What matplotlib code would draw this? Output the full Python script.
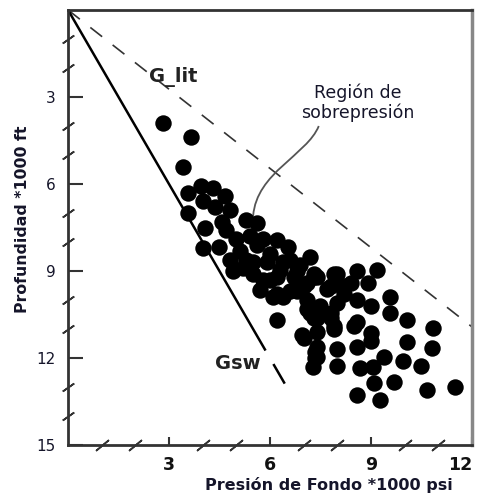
import numpy as np
import matplotlib
matplotlib.use("Agg")
import matplotlib.pyplot as plt
from matplotlib.path import Path
from matplotlib.patches import PathPatch

# pressure (*1000 psi) and depth (*1000 ft)
presion = [2.82, 3.65, 3.42,
           3.56, 3.95, 4.30, 4.66, 4.00, 3.57, 4.37, 4.80, 4.07, 4.57, 5.30, 5.60,
           4.70, 4.00, 4.50, 5.00, 5.40, 5.80, 6.20, 6.55, 5.10, 4.80, 5.30, 4.90,
           5.50, 5.50, 5.90, 6.40, 6.30, 7.20, 6.60, 6.80, 6.00, 5.80, 5.70, 6.10,
           6.20, 6.60, 6.70, 6.80, 6.40, 7.10, 7.30, 7.40, 7.90, 7.80, 8.20, 8.00,
           8.60, 9.17, 7.30, 7.70, 8.40, 8.90, 8.20, 8.60, 9.00, 9.56, 9.56, 10.06,
           10.85, 8.00, 7.10, 7.50, 7.10, 7.40, 7.80, 7.20, 7.90, 7.30, 7.80, 8.58,
           8.50, 9.00, 9.00, 10.06, 10.80, 6.20, 6.95, 7.00, 7.40, 7.40, 7.40, 7.28,
           7.90, 8.00, 8.58, 9.40, 9.96, 10.50, 8.00, 8.67, 9.05, 9.10, 9.70, 10.66,
           11.50, 8.58, 9.27, 5.60, 6.00, 6.20, 5.20, 6.90, 7.00, 7.35, 7.35]
profundidad = [3.90, 4.38, 5.40,
               6.30, 6.05, 6.15, 6.40, 6.60, 7.00, 6.80, 6.90, 7.50, 7.30, 7.24, 7.35,
               7.60, 8.20, 8.17, 7.90, 7.80, 7.90, 7.93, 8.17, 8.30, 8.60, 8.60, 9.00,
               9.10, 8.70, 8.70, 8.70, 8.97, 8.50, 8.60, 9.00, 9.30, 9.30, 9.66, 9.90,
               9.80, 9.70, 9.20, 9.70, 9.90, 9.40, 9.20, 9.20, 9.10, 9.50, 9.50, 9.10,
               9.00, 8.97, 9.10, 9.60, 9.40, 9.40, 9.80, 10.00, 10.20, 9.90, 10.45, 10.70,
               10.97, 10.10, 10.00, 10.20, 10.30, 10.60, 10.45, 10.45, 10.90, 10.60, 10.60, 10.75,
               10.90, 11.15, 11.40, 11.43, 11.66, 10.70, 11.20, 11.30, 11.10, 11.60, 11.96, 12.30,
               11.00, 11.70, 11.60, 11.96, 12.10, 12.27, 12.28, 12.35, 12.30, 12.87, 12.83, 13.10,
               13.00, 13.28, 13.45, 8.10, 8.40, 9.20, 8.90, 8.80, 9.50, 11.80, 12.00]

# gradients (depth per unit pressure)
g_lit = 0.91
g_sw = 2.0

x_ticks = [3, 6, 9, 12]
y_ticks = [3, 6, 9, 12, 15]
x_minor = [1, 2, 4, 5, 7, 8, 10, 11]
y_minor = [1, 2, 4, 5, 7, 8, 10, 11, 13, 14]

txt = '#15152a'

fig = plt.figure(figsize=(4.86, 4.98), dpi=100)
ax = fig.add_axes([0.140, 0.106, 0.831, 0.874])

ax.scatter(presion, profundidad, s=140, c='black', marker='o', linewidths=0, zorder=3)

# G_lit dashed line
xl = np.array([0, 12.2])
ax.plot(xl, g_lit * xl, color='#333333', lw=1.2, dashes=(9, 8), zorder=2)

# Gsw solid line with dashed tail
xs = np.array([0, 5.85])
ax.plot(xs, g_sw * xs, color='black', lw=1.8, zorder=2)
xs2 = np.array([6.12, 6.42])
ax.plot(xs2, g_sw * xs2, color='black', lw=1.8, zorder=2)

ax.text(3.12, 2.3, 'G_lit', fontsize=14, fontweight='bold', color='#222222',
        ha='center', va='center')
ax.text(5.03, 12.2, 'Gsw', fontsize=14, fontweight='bold', color='#222222',
        ha='center', va='center')
ax.text(8.6, 3.2, 'Región de\nsobrepresión', fontsize=12.5, color=txt,
        ha='center', va='center', linespacing=1.05)

# curved pointer to the cloud
verts = [(7.45, 4.0), (7.1, 5.0), (5.6, 5.6), (5.5, 7.1)]
codes = [Path.MOVETO, Path.CURVE4, Path.CURVE4, Path.CURVE4]
ax.add_patch(PathPatch(Path(verts, codes), fill=False, edgecolor='#555555', lw=1.3, zorder=2))

ax.set_xlim(0, 12)
ax.set_ylim(15, 0)

ax.set_xticks(x_ticks)
ax.set_yticks(y_ticks)
ax.tick_params(axis='x', direction='in', length=6, width=1.5, pad=8,
               labelsize=12.5, colors='#333333', labelcolor='#111111')
ax.tick_params(axis='y', direction='in', length=11, width=1.5, pad=9,
               labelsize=11, colors='#333333', labelcolor=txt)
for lab in ax.get_xticklabels():
    lab.set_fontweight('bold')
ax.get_xticklabels()[-1].set_horizontalalignment('right')
ax.get_xticklabels()[-1].set_x(12.3)

# slash marks for the minor divisions
ax.plot(x_minor, [15] * len(x_minor), ls='none', marker=(2, 2, -50), ms=12,
        mew=1.2, color='#333333', clip_on=False, zorder=4)
ax.plot([0] * len(y_minor), y_minor, ls='none', marker=(2, 2, -55), ms=10,
        mew=1.2, color='#333333', clip_on=False, zorder=4)

for side in ['left', 'bottom', 'top']:
    ax.spines[side].set_color('#333333')
    ax.spines[side].set_linewidth(2)
ax.spines['right'].set_color('#888888')
ax.spines['right'].set_linewidth(2.5)

ax.set_xlabel('Presión de Fondo *1000 psi', fontsize=11.5, fontweight='bold', color=txt)
ax.xaxis.set_label_coords(0.645, -0.072)
ax.set_ylabel('Profundidad *1000 ft', fontsize=11.3, fontweight='bold', color=txt)
ax.yaxis.set_label_coords(-0.095, 0.52)

fig.savefig('out.png', dpi=100)
